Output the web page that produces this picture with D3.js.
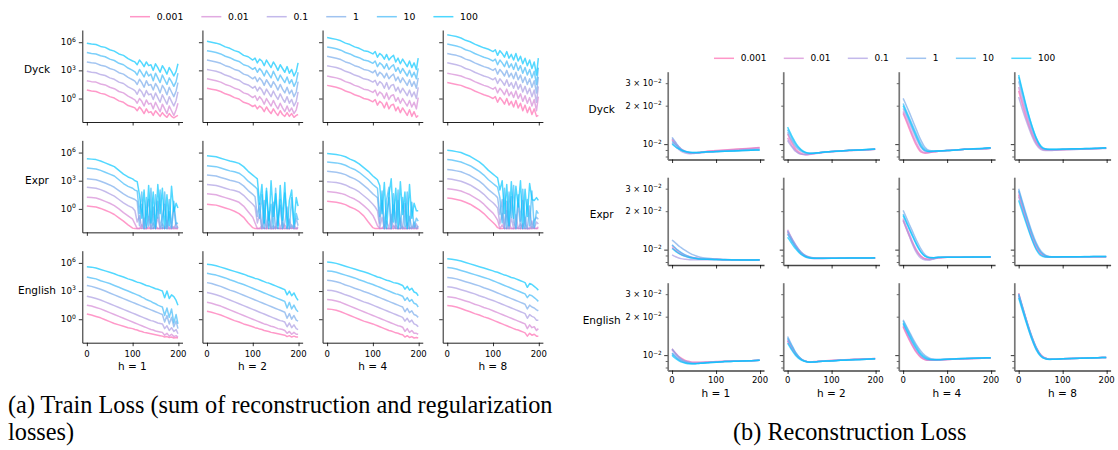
<!DOCTYPE html>
<html><head><meta charset="utf-8">
<script src="https://cdn.jsdelivr.net/npm/d3@7"></script>
<style>
body{margin:0;background:#fff}
svg{display:block}
text{font-family:"DejaVu Sans",sans-serif;fill:#000}
</style>
</head><body>
<svg id="c" width="1118" height="450"></svg>
<script>
// ---------------- DATA ----------------
const regs = ["0.001","0.01","0.1","1","10","100"];
const datasets = ["Dyck","Expr","English"];
const heads = ["h = 1","h = 2","h = 4","h = 8"];
const xTicks = [0,100,200];
const trainYTicks = [1,1e3,1e6];
const trainYTickExp = ["0","3","6"];
const reconMajor = [0.01];
const reconMinor = [0.008,0.009,0.02,0.03];
const reconLabels = [[0.01,"","10","\u22122"],[0.02,"2 \u00d7 ","10","\u22122"],[0.03,"3 \u00d7 ","10","\u22122"]];

// epochs at which values were read
const epochsTrain = [0,10,20,30,40,50,60,70,80,90,100,105,110,115,120,125,130,135,140,145,150,155,160,165,170,175,180,185,190,195,199];
const epochsRecon = [0,5,10,15,20,30,40,50,60,70,80,100,120,140,160,180,199];

// Train loss, log10 values; series order 0.001, 0.01, 0.1, 1, 10, 100
const trainDyck1 = [
[0.9,0.8,0.75,0.55,0.45,0.2,0.05,-0.25,-0.4,-0.75,-0.9,-1.0,-1.3,-0.9,-1.2,-1.6,-1.1,-1.5,-1.4,-1.8,-1.3,-1.6,-1.9,-1.5,-1.8,-2.0,-1.6,-1.9,-2.05,-1.9,-1.8],
[1.9,1.8,1.75,1.55,1.45,1.2,1.05,0.75,0.6,0.25,0.0,-0.15,-0.5,0.0,-0.3,-0.8,-0.15,-0.6,-0.5,-1.1,-0.4,-0.9,-1.4,-0.6,-1.1,-1.6,-0.8,-1.3,-1.8,-1.2,-0.5],
[2.9,2.8,2.75,2.55,2.45,2.2,2.05,1.75,1.6,1.25,1.0,0.85,0.45,1.0,0.7,0.2,0.85,0.4,0.5,-0.1,0.6,0.1,-0.4,0.4,-0.1,-0.6,0.2,-0.3,-0.8,-0.2,0.7],
[3.9,3.8,3.75,3.55,3.45,3.2,3.05,2.75,2.6,2.25,2.0,1.85,1.5,2.05,1.7,1.2,1.9,1.4,1.5,0.9,1.6,1.2,0.6,1.4,1.0,0.4,1.2,0.7,0.2,0.8,1.7],
[4.9,4.8,4.75,4.55,4.45,4.2,4.05,3.75,3.6,3.25,3.0,2.85,2.5,3.1,2.7,2.3,2.9,2.4,2.6,1.9,2.7,2.2,1.7,2.5,2.0,1.5,2.2,1.8,1.3,1.8,2.7],
[5.9,5.8,5.75,5.55,5.45,5.2,5.05,4.75,4.6,4.25,4.0,3.9,3.6,4.1,3.8,3.4,3.9,3.5,3.6,3.0,3.7,3.3,2.8,3.5,3.1,2.6,3.3,2.9,2.4,2.9,3.7]];
const trainDyck2 = [
[1.1,1.0,0.9,0.75,0.5,0.35,0.1,-0.05,-0.4,-0.55,-0.85,-0.7,-1.1,-0.8,-1.0,-1.4,-0.9,-1.3,-1.6,-1.1,-1.5,-1.8,-1.3,-1.7,-1.9,-1.5,-1.9,-1.6,-2.0,-1.8,-1.7],
[2.1,2.0,1.9,1.75,1.5,1.35,1.1,0.95,0.6,0.45,0.1,0.3,-0.2,0.2,-0.1,-0.6,0.0,-0.4,-0.8,-0.2,-0.7,-1.1,-0.5,-1.0,-1.4,-0.8,-1.4,-1.0,-1.6,-1.2,-0.4],
[3.1,3.0,2.9,2.75,2.5,2.35,2.1,1.95,1.6,1.45,1.1,1.3,0.8,1.2,0.9,0.4,1.0,0.6,0.2,0.8,0.3,-0.1,0.5,0.0,-0.4,0.2,-0.5,-0.1,-0.8,-0.3,0.7],
[4.1,4.0,3.9,3.75,3.5,3.35,3.1,2.95,2.6,2.45,2.1,2.3,1.8,2.2,1.9,1.4,2.0,1.6,1.2,1.8,1.4,0.9,1.5,1.0,0.6,1.2,0.5,0.9,0.2,0.7,1.8],
[5.1,5.0,4.9,4.75,4.5,4.35,4.1,3.95,3.6,3.45,3.1,3.3,2.8,3.2,2.9,2.4,3.0,2.6,2.2,2.9,2.4,1.9,2.5,2.1,1.7,2.3,1.6,2.0,1.3,1.8,2.8],
[6.1,6.0,5.9,5.75,5.5,5.35,5.1,4.95,4.6,4.45,4.1,4.3,3.8,4.2,4.0,3.5,4.1,3.7,3.3,3.9,3.5,3.0,3.6,3.2,2.8,3.4,2.7,3.1,2.4,2.9,3.8]];
const trainDyck4 = [
[1.4,1.3,1.2,1.05,0.8,0.65,0.4,0.25,0.0,-0.1,-0.35,-0.1,-0.7,-0.3,-0.5,-1.0,-0.4,-1.1,-0.7,-0.6,-1.3,-0.9,-1.5,-1.0,-1.4,-1.8,-1.2,-1.9,-1.4,-2.0,-1.8],
[2.4,2.3,2.2,2.05,1.8,1.65,1.4,1.25,1.0,0.9,0.65,0.9,0.3,0.7,0.5,0.0,0.6,-0.1,0.3,0.4,-0.3,0.1,-0.5,0.0,-0.4,-0.8,-0.2,-0.9,-0.4,-1.1,0.1],
[3.5,3.4,3.3,3.15,2.9,2.75,2.5,2.35,2.1,2.0,1.75,1.95,1.4,1.8,1.6,1.1,1.7,1.0,1.4,1.5,0.8,1.2,0.6,1.1,0.7,0.3,0.9,0.2,0.7,0.0,1.2],
[4.5,4.4,4.3,4.15,3.9,3.75,3.5,3.35,3.1,3.0,2.75,3.0,2.4,2.8,2.6,2.2,2.7,2.1,2.4,2.6,1.9,2.3,1.7,2.2,1.8,1.4,2.0,1.3,1.8,1.1,2.2],
[5.5,5.4,5.3,5.15,4.9,4.75,4.5,4.35,4.1,4.0,3.75,4.0,3.4,3.8,3.6,3.2,3.7,3.1,3.4,3.6,2.9,3.3,2.7,3.2,2.8,2.4,3.0,2.3,2.8,2.1,3.2],
[6.5,6.4,6.3,6.15,5.9,5.75,5.5,5.35,5.1,5.0,4.75,5.0,4.4,4.8,4.6,4.2,4.7,4.1,4.4,4.6,3.9,4.3,3.7,4.2,3.8,3.4,4.0,3.3,3.8,3.1,4.3]];
const trainDyck8 = [
[1.7,1.6,1.5,1.4,1.2,1.05,0.8,0.6,0.4,0.25,0.0,0.2,-0.4,0.1,-0.2,-0.6,0.0,-0.7,-0.3,-0.9,-0.2,-1.0,-0.5,-1.3,-0.7,-1.5,-0.9,-1.7,-1.1,-1.9,-1.8],
[2.7,2.6,2.5,2.4,2.2,2.05,1.8,1.6,1.4,1.25,1.0,1.2,0.6,1.1,0.8,0.4,1.0,0.3,0.7,0.1,0.8,0.0,0.5,-0.3,0.3,-0.5,0.1,-0.8,-0.1,-1.3,0.2],
[3.8,3.7,3.6,3.45,3.2,3.05,2.8,2.6,2.4,2.25,2.0,2.2,1.6,2.1,1.8,1.4,2.0,1.3,1.7,1.1,1.8,1.0,1.5,0.7,1.3,0.5,1.1,0.2,0.9,-0.4,1.3],
[4.8,4.7,4.6,4.45,4.2,4.05,3.8,3.6,3.4,3.25,3.0,3.2,2.6,3.1,2.8,2.4,3.0,2.3,2.7,2.1,2.8,2.0,2.5,1.7,2.3,1.5,2.1,1.2,1.9,0.6,2.3],
[5.8,5.7,5.6,5.45,5.2,5.05,4.8,4.6,4.4,4.25,4.0,4.2,3.6,4.1,3.8,3.4,4.0,3.3,3.7,3.1,3.8,3.0,3.5,2.7,3.3,2.5,3.1,2.2,2.9,1.5,3.3],
[6.8,6.7,6.6,6.45,6.2,6.05,5.8,5.6,5.4,5.25,5.0,5.2,4.6,5.1,4.8,4.4,5.0,4.3,4.7,4.1,4.8,4.0,4.5,3.7,4.3,3.5,4.1,3.2,3.9,2.5,4.3]];
const trainExpr1 = [
[0.3,0.25,0.2,0.05,-0.15,-0.35,-0.6,-0.95,-1.3,-1.7,-2.05,-2.1,-2.1,-2.1,-2.05,-2.1,-2.1,-2.1,-2.1,-2.05,-2.1,-2.1,-2.1,-2.1,-2.05,-2.1,-2.1,-2.1,-2.1,-2.1,-2.1],
[1.25,1.2,1.15,1.0,0.8,0.6,0.35,0.0,-0.4,-0.75,-1.1,-1.6,-2.1,-2.1,-1.7,-2.1,-2.1,-1.9,-2.1,-2.1,-1.8,-2.1,-2.1,-2.0,-2.1,-1.8,-2.1,-2.1,-1.9,-2.1,-2.1],
[2.3,2.25,2.2,2.05,1.85,1.6,1.35,1.0,0.65,0.35,0.1,-0.2,-1.4,-0.7,-2.1,-1.0,-2.1,-0.8,-2.1,-1.5,-2.0,-0.9,-2.1,-1.6,-2.1,-1.2,-2.1,-1.8,-2.1,-1.5,-2.1],
[3.2,3.15,3.1,2.95,2.75,2.55,2.3,1.95,1.6,1.3,1.1,1.0,0.8,-1.8,0.5,-2.1,-0.5,1.0,-2.1,0.2,-2.1,0.8,-2.0,-0.8,0.5,-2.1,-0.3,-2.1,0.2,-2.0,-1.9],
[4.35,4.3,4.25,4.1,3.9,3.7,3.5,3.1,2.7,2.4,2.2,2.0,1.9,-0.5,1.8,-2.1,1.2,-1.8,2.2,-2.1,1.5,-1.0,2.0,-2.1,1.8,-2.1,1.0,-2.0,0.8,-1.6,-1.5],
[5.35,5.3,5.25,5.1,4.9,4.7,4.5,4.1,3.7,3.4,3.2,3.0,2.9,1.5,-1.0,2.0,-2.0,2.5,-1.5,1.8,-2.1,2.6,-0.5,2.2,-2.1,1.5,-1.8,2.4,-0.3,0.6,0.1]];
const trainExpr2 = [
[0.5,0.45,0.4,0.25,0.1,-0.05,-0.25,-0.5,-0.9,-1.5,-2.0,-2.1,-2.1,-2.1,-2.1,-2.05,-2.1,-2.1,-2.1,-2.1,-2.1,-2.05,-2.1,-2.1,-2.1,-2.1,-2.1,-2.05,-2.1,-2.1,-2.1],
[1.6,1.55,1.5,1.35,1.2,1.05,0.9,0.7,0.3,-0.3,-0.9,-1.5,-2.1,-2.1,-1.8,-2.1,-2.1,-1.6,-2.1,-2.1,-1.9,-2.1,-2.1,-2.1,-1.7,-2.1,-2.1,-2.0,-2.1,-2.1,-2.1],
[2.6,2.55,2.5,2.35,2.2,2.05,1.95,1.8,1.45,0.95,0.5,0.2,-1.5,-0.6,-2.1,-1.2,-2.1,-0.7,-2.1,-1.8,-2.1,-0.9,-2.1,-1.4,-2.1,-2.0,-1.1,-2.1,-1.7,-2.1,-1.9],
[3.6,3.55,3.5,3.35,3.2,3.05,2.95,2.8,2.45,1.95,1.55,1.3,-0.8,0.6,-2.1,0.9,-2.0,-0.3,-2.1,0.7,-2.1,-1.0,0.4,-2.1,-1.5,0.2,-2.1,-1.7,-2.1,-1.0,-1.8],
[4.6,4.55,4.5,4.35,4.2,4.05,3.95,3.8,3.45,2.95,2.55,2.35,2.1,-1.0,1.5,-2.1,1.9,-1.2,0.5,-2.1,2.2,-1.8,1.0,-2.1,1.7,-0.9,-2.1,1.2,-2.0,-0.5,-1.2],
[5.65,5.6,5.55,5.4,5.25,5.1,5.0,4.85,4.5,4.0,3.6,3.4,3.2,0.5,2.6,-1.5,2.2,-2.1,3.0,-0.8,1.6,-2.1,2.5,-1.2,2.8,-2.1,0.9,2.0,-1.6,1.2,0.3]];
const trainExpr4 = [
[0.8,0.75,0.7,0.6,0.45,0.2,0.0,-0.3,-0.75,-1.4,-2.0,-2.1,-2.1,-2.1,-2.05,-2.1,-2.1,-2.1,-2.1,-2.1,-2.05,-2.1,-2.1,-2.1,-2.1,-2.1,-2.05,-2.1,-2.1,-2.1,-2.1],
[1.85,1.8,1.75,1.65,1.5,1.25,1.05,0.75,0.35,-0.1,-0.7,-1.2,-1.8,-2.1,-2.1,-1.7,-2.1,-2.1,-2.1,-1.8,-2.1,-2.1,-2.1,-1.9,-2.1,-2.1,-2.1,-2.1,-1.8,-2.1,-2.1],
[2.9,2.85,2.8,2.7,2.55,2.3,2.1,1.8,1.4,1.0,0.5,0.2,-0.2,-2.0,-0.9,-2.1,-1.3,-2.1,-0.6,-2.1,-1.7,-2.1,-1.0,-2.1,-2.1,-1.5,-2.1,-1.9,-2.1,-1.6,-2.1],
[4.0,3.95,3.9,3.8,3.65,3.4,3.2,2.9,2.5,2.1,1.6,1.4,1.2,-1.5,0.9,-2.1,-0.4,1.2,-2.1,0.4,-2.1,0.9,-1.7,-2.1,0.6,-2.1,-0.8,-2.1,-1.4,-2.1,-1.8],
[5.0,4.95,4.9,4.8,4.65,4.4,4.2,3.9,3.5,3.1,2.6,2.4,2.2,-0.8,1.9,-2.1,1.0,2.3,-2.1,1.6,-1.5,2.0,-2.1,1.2,-1.9,1.8,-2.1,0.7,-2.0,-1.0,-1.3],
[5.9,5.85,5.8,5.7,5.55,5.3,5.1,4.8,4.4,4.0,3.5,3.3,3.1,2.5,-0.5,2.8,-2.1,1.5,3.2,-1.4,2.2,-2.1,2.9,-0.6,1.8,-2.1,2.6,-1.0,0.6,-0.2,-0.2]];
const trainExpr8 = [
[1.15,1.1,1.0,0.9,0.7,0.5,0.2,-0.1,-0.5,-1.0,-1.45,-1.7,-2.0,-2.1,-2.1,-2.05,-2.1,-2.1,-2.1,-2.1,-2.1,-2.05,-2.1,-2.1,-2.1,-2.1,-2.1,-2.1,-2.05,-2.1,-2.1],
[2.15,2.1,2.0,1.9,1.7,1.5,1.2,0.9,0.5,0.0,-0.45,-0.8,-1.2,-2.1,-1.7,-2.1,-2.1,-1.5,-2.1,-2.1,-1.9,-2.1,-2.1,-1.6,-2.1,-2.1,-2.1,-1.9,-2.1,-2.1,-1.9],
[3.2,3.15,3.05,2.95,2.75,2.55,2.25,1.95,1.55,1.05,0.65,0.4,0.1,-1.6,-0.5,-2.1,-0.2,-2.1,-1.0,-2.1,-0.6,-2.1,-1.6,-2.1,-0.9,-2.1,-2.1,-1.3,-2.1,-1.4,-1.6],
[4.2,4.15,4.05,3.95,3.75,3.55,3.25,2.95,2.55,2.05,1.65,1.45,1.2,-0.6,1.0,-2.1,0.8,-2.1,1.3,-1.4,-2.1,0.6,-2.1,0.9,-1.6,-2.1,0.3,-2.1,-1.2,-0.9,-1.1],
[5.25,5.2,5.1,5.0,4.8,4.6,4.3,4.0,3.6,3.1,2.7,2.5,2.3,1.2,-1.5,2.2,-2.1,1.8,-0.9,2.5,-2.1,1.5,-1.3,2.1,-2.1,1.0,-1.8,1.9,-2.0,-0.2,-0.5],
[6.25,6.2,6.1,6.0,5.8,5.6,5.3,5.0,4.6,4.1,3.7,3.5,3.3,2.0,3.0,-0.5,2.6,-1.8,2.9,-1.0,2.4,0.2,3.0,-2.1,2.1,-0.8,2.7,1.0,0.9,1.2,0.9]];
const trainEnglish1 = [
[0.55,0.45,0.3,0.15,-0.05,-0.25,-0.45,-0.6,-0.75,-0.9,-1.0,-1.1,-1.15,-1.25,-1.3,-1.4,-1.45,-1.5,-1.55,-1.6,-1.65,-1.7,-1.75,-1.8,-1.9,-1.85,-1.95,-1.9,-2.0,-1.95,-2.0],
[1.5,1.4,1.25,1.1,0.9,0.7,0.5,0.3,0.1,-0.1,-0.3,-0.4,-0.5,-0.6,-0.7,-0.8,-0.9,-1.0,-1.1,-1.15,-1.25,-1.3,-1.35,-1.4,-1.7,-1.5,-1.8,-1.6,-1.85,-1.75,-1.9],
[2.45,2.35,2.2,2.05,1.85,1.65,1.45,1.25,1.05,0.85,0.65,0.55,0.45,0.35,0.25,0.15,0.05,-0.05,-0.15,-0.2,-0.3,-0.4,-0.45,-0.5,-1.0,-0.7,-1.2,-0.9,-1.3,-1.1,-1.55],
[3.6,3.5,3.35,3.2,3.0,2.8,2.6,2.4,2.2,2.0,1.8,1.7,1.6,1.5,1.4,1.3,1.2,1.1,1.0,0.9,0.8,0.7,0.6,0.5,-0.3,0.4,-0.5,0.2,-0.8,-0.2,-1.0],
[4.5,4.4,4.3,4.1,3.95,3.8,3.6,3.4,3.2,3.0,2.8,2.7,2.6,2.5,2.35,2.25,2.1,2.0,1.9,1.75,1.65,1.5,1.4,1.3,0.4,1.2,0.2,1.1,-0.4,0.5,-0.5],
[5.6,5.55,5.45,5.3,5.15,5.0,4.85,4.65,4.5,4.3,4.15,4.05,3.95,3.9,3.8,3.7,3.6,3.55,3.45,3.35,3.25,3.2,3.1,3.0,2.3,3.0,2.2,2.6,2.4,2.0,1.5]];
const trainEnglish2 = [
[0.85,0.75,0.6,0.45,0.25,0.05,-0.15,-0.3,-0.5,-0.65,-0.8,-0.9,-0.95,-1.05,-1.1,-1.2,-1.25,-1.3,-1.4,-1.45,-1.5,-1.55,-1.6,-1.65,-1.7,-1.85,-1.75,-1.9,-1.8,-1.9,-1.9],
[1.8,1.7,1.55,1.4,1.2,1.0,0.8,0.6,0.4,0.2,0.0,-0.1,-0.2,-0.3,-0.4,-0.5,-0.55,-0.65,-0.75,-0.8,-0.9,-1.0,-1.05,-1.1,-1.2,-1.5,-1.3,-1.6,-1.4,-1.6,-1.6],
[2.85,2.75,2.6,2.45,2.25,2.05,1.85,1.65,1.45,1.25,1.05,0.95,0.85,0.75,0.65,0.55,0.45,0.35,0.25,0.15,0.05,-0.05,-0.15,-0.2,-0.3,-0.8,-0.4,-0.9,-0.6,-1.0,-1.1],
[3.9,3.8,3.65,3.5,3.3,3.1,2.95,2.75,2.55,2.35,2.15,2.05,1.95,1.85,1.75,1.65,1.55,1.45,1.35,1.25,1.15,1.05,0.95,0.85,0.75,0.1,0.6,0.0,0.4,-0.1,-0.2],
[4.9,4.8,4.7,4.55,4.4,4.2,4.05,3.85,3.7,3.5,3.3,3.2,3.1,3.0,2.9,2.8,2.7,2.6,2.5,2.4,2.3,2.2,2.1,2.0,1.9,1.2,1.8,1.1,1.5,1.0,0.8],
[5.85,5.8,5.7,5.55,5.4,5.25,5.1,4.95,4.8,4.6,4.45,4.35,4.3,4.2,4.1,4.0,3.9,3.85,3.75,3.65,3.55,3.45,3.35,3.25,3.15,2.6,3.0,2.5,2.8,2.3,2.0]];
const trainEnglish4 = [
[1.1,1.05,0.95,0.8,0.6,0.4,0.2,0.0,-0.2,-0.35,-0.5,-0.6,-0.7,-0.8,-0.9,-1.0,-1.1,-1.2,-1.25,-1.35,-1.45,-1.5,-1.6,-1.65,-1.9,-1.75,-1.95,-1.85,-2.0,-1.95,-2.0],
[2.1,2.05,1.95,1.8,1.6,1.4,1.2,1.0,0.8,0.6,0.4,0.3,0.2,0.1,0.0,-0.1,-0.2,-0.3,-0.4,-0.5,-0.6,-0.7,-0.75,-0.85,-1.3,-1.0,-1.4,-1.2,-1.5,-1.5,-1.6],
[3.1,3.05,2.95,2.8,2.6,2.45,2.25,2.05,1.85,1.7,1.5,1.4,1.3,1.2,1.1,1.0,0.9,0.8,0.7,0.6,0.5,0.4,0.3,0.2,-0.2,0.1,-0.3,-0.1,-0.5,-0.6,-0.8],
[4.15,4.1,4.0,3.85,3.65,3.5,3.3,3.15,2.95,2.8,2.6,2.5,2.4,2.3,2.2,2.1,2.0,1.9,1.8,1.7,1.6,1.5,1.4,1.3,0.8,1.15,0.7,0.9,0.5,0.4,0.2],
[5.15,5.1,5.0,4.85,4.7,4.55,4.4,4.2,4.05,3.85,3.7,3.6,3.5,3.4,3.3,3.2,3.1,3.0,2.9,2.8,2.7,2.65,2.55,2.45,2.0,2.3,1.9,2.1,1.7,1.6,1.3],
[6.1,6.05,5.95,5.8,5.65,5.5,5.35,5.2,5.05,4.9,4.7,4.6,4.5,4.45,4.35,4.25,4.15,4.1,4.0,3.9,3.85,3.8,3.7,3.6,3.2,3.5,3.1,3.3,2.9,2.8,2.5]];
const trainEnglish8 = [
[1.45,1.4,1.3,1.15,0.95,0.8,0.6,0.45,0.25,0.1,-0.1,-0.2,-0.3,-0.4,-0.5,-0.6,-0.7,-0.8,-0.9,-1.0,-1.1,-1.15,-1.25,-1.35,-1.45,-1.8,-1.5,-1.7,-1.6,-1.8,-1.8],
[2.4,2.35,2.25,2.1,1.95,1.8,1.6,1.45,1.25,1.1,0.9,0.8,0.7,0.6,0.5,0.4,0.3,0.2,0.1,0.0,-0.1,-0.2,-0.3,-0.4,-0.5,-1.0,-0.6,-0.9,-0.8,-1.2,-1.0],
[3.45,3.4,3.3,3.15,3.0,2.85,2.7,2.5,2.35,2.15,2.0,1.9,1.8,1.7,1.6,1.5,1.4,1.3,1.2,1.1,1.0,0.9,0.8,0.7,0.6,0.1,0.5,0.3,0.2,-0.1,-0.1],
[4.45,4.4,4.3,4.15,4.0,3.85,3.7,3.55,3.35,3.2,3.0,2.9,2.8,2.7,2.6,2.5,2.4,2.3,2.2,2.1,2.0,1.9,1.8,1.7,1.6,1.1,1.5,1.3,1.2,1.0,0.9],
[5.5,5.45,5.35,5.2,5.05,4.9,4.75,4.6,4.45,4.3,4.1,4.0,3.9,3.8,3.7,3.6,3.5,3.4,3.3,3.2,3.1,3.0,2.9,2.8,2.7,2.3,2.6,2.5,2.3,2.1,1.9],
[6.45,6.4,6.3,6.2,6.05,5.9,5.75,5.6,5.45,5.3,5.15,5.05,5.0,4.9,4.8,4.7,4.65,4.55,4.45,4.4,4.3,4.2,4.1,4.0,3.9,3.4,3.8,3.7,3.5,3.3,3.1]];

// Reconstruction loss, in units of 1e-3; series order 0.001 .. 100
const reconDyck1 = [
[10.8,10.3,9.8,9.4,9.1,8.7,8.5,8.5,8.6,8.7,8.8,8.9,9.0,9.1,9.2,9.3,9.4],
[11.0,10.5,10.0,9.6,9.2,8.8,8.55,8.5,8.55,8.65,8.75,8.85,8.95,9.05,9.15,9.25,9.35],
[10.2,9.8,9.4,9.1,8.8,8.5,8.4,8.45,8.5,8.6,8.65,8.75,8.85,8.95,9.0,9.1,9.2],
[11.3,10.7,10.1,9.6,9.2,8.8,8.6,8.55,8.6,8.6,8.65,8.7,8.8,8.85,8.9,8.95,9.0],
[10.5,10.1,9.7,9.3,9.0,8.7,8.6,8.6,8.6,8.65,8.7,8.75,8.8,8.85,8.9,8.95,9.0],
[10.0,9.7,9.4,9.2,9.0,8.75,8.65,8.6,8.6,8.65,8.7,8.75,8.8,8.85,8.9,8.95,9.0]];
const reconDyck2 = [
[12.0,11.0,10.2,9.5,9.0,8.5,8.3,8.35,8.45,8.55,8.65,8.75,8.85,8.95,9.0,9.05,9.1],
[11.2,10.4,9.7,9.2,8.8,8.35,8.25,8.3,8.4,8.5,8.6,8.7,8.8,8.9,8.95,9.05,9.1],
[10.7,10.0,9.5,9.0,8.7,8.35,8.3,8.35,8.45,8.55,8.6,8.75,8.85,8.9,9.0,9.05,9.1],
[12.4,11.4,10.6,9.9,9.4,8.8,8.5,8.45,8.5,8.55,8.65,8.75,8.85,8.9,9.0,9.05,9.1],
[13.0,12.0,11.1,10.3,9.7,9.0,8.6,8.5,8.5,8.55,8.65,8.75,8.85,8.95,9.0,9.05,9.15],
[13.6,12.5,11.5,10.7,10.0,9.1,8.65,8.5,8.5,8.55,8.65,8.75,8.85,8.95,9.0,9.1,9.15]];
const reconDyck4 = [
[17.4,15.8,14.3,12.9,11.7,9.8,8.7,8.5,8.6,8.7,8.8,8.9,9.0,9.1,9.15,9.2,9.3],
[18.0,16.4,14.9,13.5,12.2,10.2,8.9,8.55,8.6,8.7,8.8,8.9,9.0,9.1,9.15,9.2,9.3],
[19.0,17.4,15.9,14.5,13.2,11.0,9.5,8.8,8.7,8.75,8.8,8.9,9.0,9.1,9.15,9.2,9.3],
[22.8,20.9,19.1,17.4,15.8,13.0,10.8,9.4,8.9,8.85,8.85,8.9,9.0,9.1,9.15,9.25,9.3],
[20.8,19.0,17.3,15.8,14.4,12.0,10.1,9.1,8.8,8.8,8.85,8.9,9.0,9.1,9.15,9.25,9.35],
[20.0,18.3,16.7,15.2,13.8,11.5,9.7,8.9,8.75,8.8,8.85,8.9,9.0,9.1,9.2,9.25,9.35]];
const reconDyck8 = [
[26.1,22.5,19.5,17.0,15.0,12.0,10.2,9.3,9.0,9.0,9.0,9.05,9.1,9.15,9.2,9.25,9.3],
[28.0,24.0,20.8,18.0,15.8,12.5,10.4,9.4,9.1,9.05,9.05,9.1,9.15,9.2,9.2,9.25,9.3],
[23.4,20.5,18.0,16.0,14.3,11.6,9.9,9.1,8.9,8.9,8.95,9.0,9.05,9.1,9.15,9.2,9.25],
[31.0,26.5,22.7,19.5,17.0,13.2,10.8,9.5,9.1,9.05,9.05,9.1,9.15,9.2,9.2,9.25,9.3],
[33.5,28.5,24.3,20.8,18.0,13.8,11.1,9.6,9.15,9.1,9.1,9.1,9.15,9.2,9.25,9.3,9.35],
[34.8,29.5,25.0,21.3,18.3,14.0,11.2,9.7,9.2,9.1,9.1,9.15,9.2,9.2,9.25,9.3,9.35]];
const reconExpr1 = [
[10.4,10.0,9.7,9.4,9.2,8.9,8.7,8.6,8.5,8.45,8.4,8.4,8.35,8.35,8.3,8.3,8.3],
[10.8,10.4,10.0,9.7,9.45,9.05,8.8,8.65,8.55,8.5,8.45,8.4,8.35,8.35,8.3,8.3,8.3],
[9.1,8.9,8.75,8.6,8.5,8.4,8.35,8.35,8.35,8.35,8.35,8.35,8.3,8.3,8.3,8.3,8.3],
[11.9,11.5,11.1,10.7,10.4,9.85,9.4,9.05,8.8,8.65,8.55,8.45,8.4,8.35,8.35,8.3,8.3],
[10.9,10.5,10.1,9.8,9.5,9.1,8.8,8.6,8.5,8.45,8.4,8.4,8.35,8.35,8.3,8.3,8.3],
[10.2,9.9,9.6,9.35,9.15,8.85,8.65,8.55,8.45,8.4,8.4,8.35,8.35,8.3,8.3,8.3,8.35]];
const reconExpr2 = [
[13.8,12.8,11.9,11.1,10.5,9.5,8.95,8.7,8.6,8.55,8.55,8.55,8.55,8.6,8.6,8.6,8.6],
[14.3,13.2,12.2,11.4,10.7,9.6,9.0,8.7,8.6,8.55,8.55,8.55,8.6,8.6,8.6,8.6,8.6],
[13.4,12.5,11.7,10.9,10.3,9.3,8.8,8.6,8.5,8.5,8.5,8.55,8.55,8.6,8.6,8.6,8.6],
[14.0,13.0,12.1,11.3,10.6,9.6,9.0,8.75,8.6,8.55,8.55,8.55,8.55,8.6,8.6,8.6,8.6],
[13.2,12.4,11.6,10.9,10.3,9.4,8.9,8.65,8.55,8.55,8.55,8.55,8.55,8.6,8.6,8.6,8.6],
[12.5,11.8,11.1,10.5,10.0,9.2,8.8,8.6,8.55,8.55,8.55,8.55,8.6,8.6,8.6,8.6,8.65]];
const reconExpr4 = [
[16.9,15.3,13.9,12.6,11.5,9.8,8.9,8.5,8.45,8.6,8.65,8.7,8.7,8.7,8.7,8.7,8.75],
[17.5,15.8,14.3,13.0,11.8,10.0,8.9,8.45,8.35,8.5,8.6,8.7,8.7,8.7,8.7,8.7,8.75],
[17.0,15.3,13.8,12.5,11.3,9.5,8.6,8.3,8.3,8.45,8.6,8.7,8.7,8.7,8.7,8.75,8.75],
[20.3,18.6,17.0,15.5,14.2,11.9,10.2,9.1,8.7,8.65,8.7,8.7,8.7,8.7,8.75,8.75,8.75],
[19.0,17.4,15.9,14.5,13.3,11.2,9.7,8.9,8.65,8.65,8.7,8.7,8.7,8.7,8.75,8.75,8.75],
[18.5,17.0,15.5,14.2,13.0,11.0,9.6,8.85,8.65,8.65,8.7,8.7,8.7,8.75,8.75,8.75,8.8]];
const reconExpr8 = [
[27.0,23.5,20.5,17.9,15.8,12.5,10.4,9.3,8.85,8.75,8.75,8.75,8.75,8.8,8.8,8.8,8.8],
[28.5,24.8,21.6,18.9,16.6,13.1,10.8,9.5,8.95,8.8,8.75,8.75,8.8,8.8,8.8,8.8,8.8],
[26.0,22.8,20.0,17.6,15.5,12.3,10.2,9.2,8.8,8.75,8.75,8.75,8.75,8.8,8.8,8.8,8.8],
[30.0,26.2,22.9,20.0,17.6,13.8,11.3,9.8,9.1,8.85,8.8,8.8,8.8,8.8,8.8,8.85,8.85],
[29.0,25.4,22.2,19.4,17.1,13.4,11.0,9.6,9.0,8.8,8.8,8.8,8.8,8.8,8.85,8.85,8.85],
[24.3,21.5,19.0,16.9,15.0,12.0,10.0,9.0,8.75,8.75,8.75,8.8,8.8,8.8,8.8,8.85,8.85]];
const reconEnglish1 = [
[11.2,10.7,10.2,9.8,9.5,9.1,8.9,8.8,8.8,8.8,8.85,8.9,8.95,9.0,9.05,9.05,9.1],
[11.0,10.5,10.0,9.6,9.3,8.95,8.8,8.75,8.75,8.8,8.8,8.85,8.95,9.0,9.0,9.05,9.1],
[10.3,9.9,9.5,9.2,9.0,8.75,8.65,8.6,8.65,8.7,8.75,8.85,8.9,8.95,9.0,9.05,9.1],
[11.2,10.6,10.1,9.7,9.35,8.95,8.75,8.65,8.65,8.7,8.75,8.85,8.9,8.95,9.0,9.05,9.1],
[10.4,10.0,9.6,9.3,9.05,8.75,8.6,8.55,8.6,8.65,8.7,8.8,8.9,8.95,9.0,9.05,9.1],
[10.0,9.6,9.3,9.05,8.85,8.65,8.55,8.55,8.6,8.65,8.7,8.8,8.9,8.95,9.0,9.05,9.1]];
const reconEnglish2 = [
[13.0,12.0,11.2,10.5,10.0,9.3,8.95,8.85,8.9,8.95,9.0,9.1,9.15,9.25,9.3,9.35,9.4],
[13.3,12.3,11.4,10.7,10.1,9.35,8.95,8.85,8.85,8.9,8.95,9.05,9.15,9.2,9.3,9.35,9.4],
[12.9,12.0,11.2,10.5,10.0,9.3,8.95,8.85,8.85,8.9,8.95,9.05,9.1,9.2,9.25,9.3,9.35],
[14.0,12.9,11.9,11.0,10.3,9.4,9.0,8.85,8.85,8.9,8.95,9.05,9.1,9.2,9.25,9.3,9.35],
[13.6,12.6,11.7,10.9,10.2,9.35,8.95,8.85,8.85,8.9,8.95,9.05,9.1,9.2,9.25,9.3,9.35],
[12.4,11.6,10.9,10.3,9.8,9.2,8.9,8.8,8.85,8.9,8.95,9.0,9.1,9.15,9.2,9.3,9.35]];
const reconEnglish4 = [
[16.6,15.2,14.0,12.9,12.0,10.5,9.6,9.2,9.1,9.1,9.15,9.25,9.3,9.35,9.4,9.45,9.5],
[17.0,15.6,14.3,13.2,12.2,10.7,9.7,9.25,9.1,9.1,9.15,9.25,9.3,9.35,9.4,9.45,9.5],
[17.5,16.1,14.8,13.6,12.6,11.0,9.9,9.35,9.15,9.15,9.2,9.25,9.3,9.35,9.4,9.45,9.5],
[18.9,17.5,16.2,15.0,13.9,12.1,10.8,9.9,9.45,9.3,9.25,9.3,9.35,9.4,9.45,9.5,9.55],
[18.5,17.1,15.8,14.6,13.5,11.7,10.4,9.7,9.35,9.25,9.25,9.3,9.35,9.4,9.45,9.5,9.55],
[17.8,16.4,15.2,14.0,13.0,11.3,10.1,9.5,9.25,9.2,9.2,9.3,9.35,9.4,9.45,9.5,9.55]];
const reconEnglish8 = [
[30.6,26.6,23.2,20.3,17.8,14.0,11.5,10.1,9.5,9.3,9.3,9.35,9.4,9.45,9.5,9.55,9.6],
[29.5,25.8,22.6,19.8,17.4,13.7,11.3,10.0,9.45,9.3,9.3,9.35,9.4,9.45,9.5,9.55,9.6],
[29.0,25.3,22.1,19.4,17.0,13.4,11.1,9.9,9.4,9.3,9.3,9.35,9.4,9.45,9.5,9.55,9.6],
[29.8,26.0,22.7,19.9,17.5,13.8,11.4,10.0,9.45,9.3,9.3,9.35,9.4,9.45,9.5,9.55,9.6],
[30.2,26.3,23.0,20.1,17.6,13.9,11.4,10.0,9.45,9.3,9.3,9.35,9.4,9.45,9.5,9.55,9.6],
[28.0,24.6,21.6,19.0,16.8,13.3,11.0,9.8,9.35,9.25,9.3,9.35,9.4,9.45,9.5,9.55,9.6]];

// tables built from the arrays above
const trainTable = [
  [trainDyck1, trainDyck2, trainDyck4, trainDyck8],
  [trainExpr1, trainExpr2, trainExpr4, trainExpr8],
  [trainEnglish1, trainEnglish2, trainEnglish4, trainEnglish8]];
const reconTable = [
  [reconDyck1, reconDyck2, reconDyck4, reconDyck8],
  [reconExpr1, reconExpr2, reconExpr4, reconExpr8],
  [reconEnglish1, reconEnglish2, reconEnglish4, reconEnglish8]];

// ---------------- STYLE / LAYOUT ----------------
const colors = ["#ff69b0","#d486d4","#a99be2","#77a9ea","#3eb8f8","#00c6ff"];
const X_DOMAIN = [-9.95, 208.95];
const LEFT = {x0:82.3, dx:120.13, w:100.2, y0:30, dy:110.35, h:92, lw:1.5, alpha:0.68,
  yDomain:[Math.pow(10,-2.5), Math.pow(10,7.3)], curve:d3.curveLinear,
  spineL:{c:"#222",w:1}, spineB:{c:"#222",w:1},
  xLabOff:14.4, hLabOff:27.2, rowLabX:37, yTickFs:8.7, xTickFs:8.5};
const RIGHT = {x0:667.7, dx:115.53, w:96.3, y0:71.7, dy:105.5, h:87.8, lw:1.5, alpha:0.7,
  yDomain:[0.00758, 0.0369], curve:d3.curveMonotoneX,
  spineL:{c:"#777",w:1.7}, spineB:{c:"#444",w:1.3},
  xLabOff:12.8, hLabOff:26.6, rowLabX:601.7, yTickFs:8.2, xTickFs:8.5};

const svg = d3.select("#c");

function styleAxis(ax, spine) {
  ax.select(".domain").attr("stroke", spine.c).attr("stroke-width", spine.w);
  ax.selectAll(".tick line").attr("stroke", "#000").attr("stroke-width", 0.8);
}

function supText(parent, x, y, fs, pre, base, exp, anchor) {
  const t = parent.append("text").attr("x", x).attr("y", y).attr("dy", "0.35em")
    .attr("font-size", fs).attr("text-anchor", anchor);
  t.append("tspan").text(pre + base);
  t.append("tspan").attr("dy", -fs*0.42).attr("font-size", fs*0.7).text(exp);
  return t;
}

function drawGrid(cfg, table, epochs, toVal, kind) {
  table.forEach((rowPanels, r) => {
    rowPanels.forEach((series, c) => {
      const gx = cfg.x0 + c*cfg.dx, gy = cfg.y0 + r*cfg.dy;
      const g = svg.append("g").attr("transform", `translate(${gx},${gy})`);
      const x = d3.scaleLinear().domain(X_DOMAIN).range([0, cfg.w]);
      const y = d3.scaleLog().domain(cfg.yDomain).range([cfg.h, 0]);
      const line = d3.line().x(d => x(d[0])).y(d => y(d[1])).curve(cfg.curve);
      series.forEach((vals, k) => {
        g.append("path").datum(vals.map((v, i) => [epochs[i], toVal(v)]))
          .attr("d", line).attr("fill", "none")
          .attr("stroke", colors[k]).attr("stroke-opacity", cfg.alpha)
          .attr("stroke-width", cfg.lw).attr("stroke-linejoin", "round");
      });
      const xa = g.append("g").attr("transform", `translate(0,${cfg.h})`)
        .call(d3.axisBottom(x).tickValues(xTicks).tickSize(3.5).tickSizeOuter(0).tickFormat(""));
      styleAxis(xa, cfg.spineB);
      if (kind === "train") {
        const ya = g.append("g").call(d3.axisLeft(y).tickValues(trainYTicks).tickSize(3.5).tickSizeOuter(0).tickFormat(""));
        styleAxis(ya, cfg.spineL);
        if (c === 0) trainYTicks.forEach((t, i) =>
          supText(g, -6.5, y(t), cfg.yTickFs, "", "10", trainYTickExp[i], "end"));
      } else {
        const ya = g.append("g").call(d3.axisLeft(y).tickValues(reconMajor).tickSize(3.5).tickSizeOuter(0).tickFormat(""));
        styleAxis(ya, cfg.spineL);
        const ym = g.append("g").call(d3.axisLeft(y).tickValues(reconMinor).tickSize(2).tickSizeOuter(0).tickFormat(""));
        ym.select(".domain").remove();
        ym.selectAll(".tick line").attr("stroke", "#000").attr("stroke-width", 0.6);
        if (c === 0) reconLabels.forEach(l =>
          supText(g, -6, y(l[0]), cfg.yTickFs, l[1], l[2], l[3], "end"));
      }
      if (r === table.length - 1) {
        xTicks.forEach(t => g.append("text").attr("x", x(t)).attr("y", cfg.h + cfg.xLabOff)
          .attr("text-anchor", "middle").attr("font-size", cfg.xTickFs).text(d3.format("d")(t)));
        g.append("text").attr("x", cfg.w/2).attr("y", cfg.h + cfg.hLabOff)
          .attr("text-anchor", "middle").attr("font-size", 10.5).text(heads[c]);
      }
      if (c === 0) {
        svg.append("text").attr("x", cfg.rowLabX).attr("y", gy + cfg.h/2 - 2.7)
          .attr("text-anchor", "middle").attr("font-size", 10.5).text(datasets[r]);
      }
    });
  });
}

drawGrid(LEFT, trainTable, epochsTrain, v => Math.pow(10, v), "train");
drawGrid(RIGHT, reconTable, epochsRecon, v => v * 1e-3, "recon");

function legend(x0, y, fs, colGap) {
  let cx = x0;
  regs.forEach((lab, k) => {
    svg.append("line").attr("x1", cx).attr("x2", cx + 20).attr("y1", y).attr("y2", y)
      .attr("stroke", colors[k]).attr("stroke-opacity", 0.7).attr("stroke-width", 1.5);
    const t = svg.append("text").attr("x", cx + 26.7).attr("y", y).attr("dy", "0.35em")
      .attr("font-size", fs).text(lab);
    cx += 26.7 + t.node().getComputedTextLength() + colGap;
  });
}
legend(130, 16.7, 9.3, 18);
legend(714, 58.3, 9, 17.3);

const cap = {font:'"Liberation Serif","Times New Roman",serif', fs:24.3};
svg.append("text").attr("x", 8).attr("y", 413).style("font-family", cap.font).attr("font-size", cap.fs)
  .text("(a) Train Loss (sum of reconstruction and regularization");
svg.append("text").attr("x", 8).attr("y", 440).style("font-family", cap.font).attr("font-size", cap.fs)
  .text("losses)");
svg.append("text").attr("x", 733).attr("y", 440).style("font-family", cap.font).attr("font-size", cap.fs)
  .text("(b) Reconstruction Loss");
</script>
</body></html>
